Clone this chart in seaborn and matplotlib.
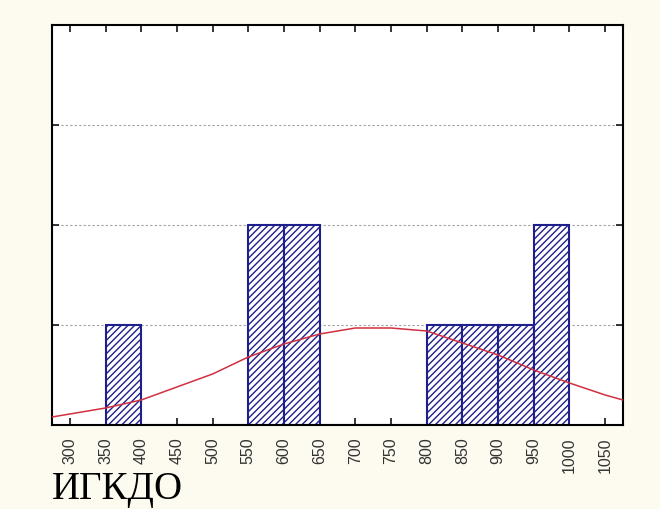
import matplotlib
matplotlib.use('Agg')
import matplotlib.pyplot as plt
import numpy as np
import pandas as pd
import seaborn as sns

# histogram bins (left edges) and counts
bin_left = [350, 550, 600, 800, 850, 900, 950]
counts = [1, 2, 2, 1, 1, 1, 2]

# fitted curve, read point by point
curve_x = [275, 300, 350, 400, 450, 500, 550, 600, 650, 700, 750, 800, 850, 900, 950, 1000, 1050, 1075]
curve_y = [0.08, 0.11, 0.17, 0.25, 0.38, 0.51, 0.68, 0.81, 0.91, 0.97, 0.97, 0.94, 0.82, 0.70, 0.55, 0.42, 0.30, 0.25]

x_ticks = list(range(300, 1051, 50))
label = "ИГКДО"

sns.set_style("white")
plt.rcParams['hatch.linewidth'] = 1.0

fig = plt.figure(figsize=(6.6, 5.09), dpi=100, facecolor='#fdfaef')
ax = fig.add_axes([52 / 660, 84 / 509, 571 / 660, 400 / 509])
ax.set_facecolor('white')

hist_df = pd.DataFrame({"x": [b + 25 for b in bin_left], "n": counts})
sns.histplot(data=hist_df, x="x", weights="n", bins=list(range(350, 1001, 50)),
             color='white', edgecolor='#1e1e8c', linewidth=1.5, hatch='/////',
             alpha=1, ax=ax, zorder=2)

sns.lineplot(x=curve_x, y=curve_y, color='#d03040', linewidth=1.1, ax=ax, zorder=3)

ax.set_xlim(275, 1075)
ax.set_ylim(0, 4)
ax.set_xticks(x_ticks)
ax.set_xticklabels([str(v) for v in x_ticks], rotation=90, fontsize=11.5,
                   color='#333333', family='Liberation Sans')
ax.set_yticks([1, 2, 3])
ax.set_yticklabels([])
ax.set_xlabel("")
ax.set_ylabel("")
ax.yaxis.grid(True, linestyle=(0, (2, 2)), color='#a0a0a0', linewidth=0.8, zorder=0)
ax.set_axisbelow(True)
ax.tick_params(axis='x', direction='in', top=True, bottom=True, length=5, width=1.3, pad=9)
ax.tick_params(axis='y', direction='in', left=True, right=True, length=5, width=1.3)
for s in ax.spines.values():
    s.set_color('black')
    s.set_linewidth(1.5)
    s.set_visible(True)

fig.text(52 / 660, 10 / 509, label, family='Liberation Serif', fontsize=28,
         color='black', va='baseline', ha='left')

fig.savefig("out.png", dpi=100, facecolor=fig.get_facecolor())
